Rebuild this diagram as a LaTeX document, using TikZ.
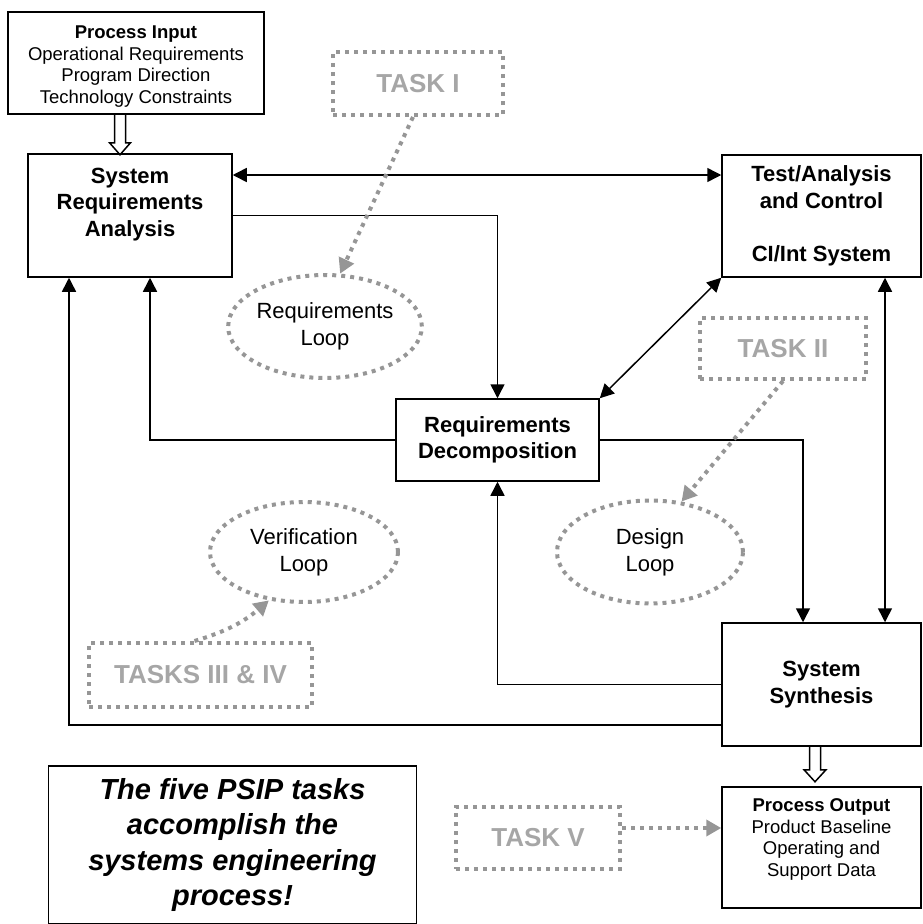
\documentclass[tikz,border=0pt]{standalone}
\usepackage{fontspec}
\setmainfont{Liberation Sans}
\usetikzlibrary{arrows.meta,shapes.geometric}
\definecolor{taskline}{RGB}{150,150,150}
\definecolor{tasktext}{RGB}{166,166,166}

\begin{document}
\begin{tikzpicture}[x=1pt, y=-1pt,
  >={Triangle[length=14pt,width=14pt]},
  box/.style={draw, line width=1.5pt, align=center, inner sep=0pt},
  bigtxt/.style={font={\fontsize{22}{26.5}\selectfont\bfseries}},
  smalltxt/.style={font={\fontsize{18.5}{21.5}\selectfont}},
  taskbox/.style={draw=taskline, line width=4pt, dash pattern=on 4pt off 5pt,
    text=tasktext, font={\fontsize{26}{30}\selectfont\bfseries}, inner sep=0pt},
  loopell/.style={ellipse, draw=taskline, line width=4pt, dash pattern=on 4pt off 5pt,
    align=center, inner sep=0pt, font={\fontsize{22}{27}\selectfont}},
  arr/.style={line width=1.5pt, ->},
  biarr/.style={line width=1.5pt, <->},
  taskarr/.style={taskline, line width=4pt, dash pattern=on 4pt off 5pt,
    -{Triangle[length=15pt,width=16pt]}},
  hollow/.style={line width=1.5pt, line join=miter}
]
\useasboundingbox (0,0) rectangle (922,924);

% main boxes
\node[box, smalltxt, minimum width=256pt, minimum height=102pt] (pin) at (136,63)
  {\mbox{}\\[-2pt]\textbf{Process Input}\\Operational Requirements\\Program Direction\\Technology Constraints};
\node[box, bigtxt, minimum width=204pt, minimum height=123pt] (sra) at (130,215.5)
  {System\\Requirements\\Analysis\\\mbox{}};
\node[box, bigtxt, minimum width=199pt, minimum height=122pt] (tac) at (821.5,216)
  {Test/Analysis\\and Control\\\mbox{}\\CI/Int System};
\node[box, bigtxt, minimum width=203pt, minimum height=82pt] (rd) at (497.5,440)
  {Requirements\\Decomposition};
\node[box, bigtxt, minimum width=199pt, minimum height=123pt] (ss) at (821.5,684.5)
  {System\\Synthesis};
\node[box, smalltxt, minimum width=199pt, minimum height=121pt] (pout) at (821.5,847.5)
  {\textbf{Process Output}\\Product Baseline\\Operating and\\Support Data\\[-2pt]\mbox{}};
\node[box, minimum width=368pt, minimum height=158pt,
  font={\fontsize{29}{35.5}\selectfont\bfseries\itshape}] (note) at (232.5,845)
  {The five PSIP tasks\\accomplish the\\systems engineering\\process!};

% tasks and loops
\node[taskbox, minimum width=170pt, minimum height=63pt] (t1) at (418,83.5) {TASK I};
\node[taskbox, minimum width=166pt, minimum height=61pt] (t2) at (783,348.5) {TASK II};
\node[taskbox, minimum width=223pt, minimum height=64pt] (t34) at (200.5,675) {TASKS III \& IV};
\node[taskbox, minimum width=164pt, minimum height=62pt] (t5) at (538,838) {TASK V};
\node[loopell, minimum width=186pt, minimum height=103pt] (rloop) at (325,326.5) {Requirements\\Loop};
\node[loopell, minimum width=188pt, minimum height=100pt] (vloop) at (304,552) {Verification\\Loop};
\node[loopell, minimum width=186pt, minimum height=103pt] (dloop) at (650,552) {Design\\Loop};

% connectors
\draw[biarr] ([yshift=40.5pt]sra.east) -- ([yshift=41pt]tac.west);
\draw[arr] (sra.east) -| (rd.north);
\draw[biarr] (rd.north east) -- (tac.south west);
\draw[arr] (rd.east) -| ([xshift=-18.5pt]ss.north);
\draw[arr] (rd.west) -| ([xshift=20pt]sra.south);
\draw[arr] (ss.west) -| (rd.south);
\draw[arr] ([yshift=-40.5pt]ss.west) -| ([xshift=-61pt]sra.south);
\draw[biarr] ([xshift=63.5pt]tac.south) -- ([xshift=63.5pt]ss.north);

% hollow arrows
\coordinate (inx) at ([xshift=-10pt]sra.north);
\coordinate (outx) at ([xshift=-6.5pt]pout.north);
\draw[hollow] (pin.south -| inx) ++(-5.5,0) -- ++(0,28) -- ++(-5,0) -- ++(10.5,12)
  -- ++(10.5,-12) -- ++(-5,0) -- ++(0,-28);
\draw[hollow] (ss.south -| outx) ++(-5.5,0) -- ++(0,23) -- ++(-5.5,0) -- ++(11,12)
  -- ++(11,-12) -- ++(-5.5,0) -- ++(0,-23);

% task arrows
\draw[taskarr] ([xshift=-5pt]t1.south) -- (rloop.74);
\draw[taskarr] (t2.south) -- (dloop.58);
\draw[taskarr] ([xshift=-6pt]t34.north) to[bend right=12] (vloop.234);
\draw[taskarr] ([yshift=10pt]t5.east) -- ([yshift=19.5pt]pout.west);
\end{tikzpicture}
\end{document}
